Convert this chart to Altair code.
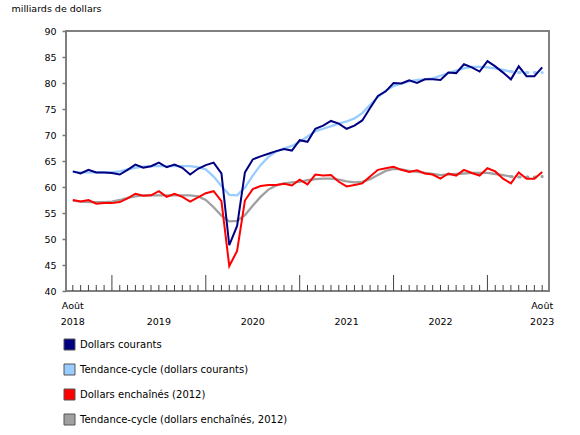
import altair as alt
import pandas as pd

# Months from August 2018 to August 2023
months = [str(p) for p in pd.period_range("2018-08", "2023-08", freq="M")]

courants = [63.0, 62.6, 63.3, 62.8, 62.8, 62.7, 62.4, 63.3, 64.3, 63.7,
            64.0, 64.7, 63.8, 64.3, 63.7, 62.4, 63.5, 64.2, 64.7, 62.6,
            48.8, 52.5, 62.8, 65.3, 65.9, 66.4, 66.9, 67.3, 67.0, 69.0,
            68.7, 71.2, 71.8, 72.7, 72.2, 71.2, 71.8, 72.8, 75.2, 77.5,
            78.4, 80.0, 79.9, 80.5, 80.0, 80.7, 80.7, 80.6, 82.0, 81.9,
            83.6, 83.0, 82.2, 84.2, 83.2, 82.0, 80.7, 83.2, 81.3, 81.3,
            83.0]
tendance_courants = [62.9, 62.8, 62.8, 62.8, 62.8, 62.8, 63.0, 63.4, 63.7, 63.9,
                     64.0, 64.0, 64.0, 64.0, 64.0, 64.0, 63.8, 63.4, 62.0, 60.2,
                     58.5, 58.4, 59.9, 62.2, 64.2, 65.8, 66.8, 67.4, 67.9, 68.7,
                     69.7, 70.7, 71.2, 71.7, 72.2, 72.6, 73.2, 74.2, 75.8, 77.3,
                     78.5, 79.4, 79.9, 80.3, 80.6, 80.7, 80.9, 81.4, 81.9, 82.4,
                     82.8, 83.1, 83.1, 83.0, 82.8, 82.5, 82.2, 82.0, 82.0, 82.0,
                     82.0]
enchaines = [57.5, 57.2, 57.5, 56.8, 56.9, 56.9, 57.1, 57.8, 58.7, 58.3,
             58.4, 59.2, 58.1, 58.7, 58.1, 57.2, 58.0, 58.8, 59.2, 57.3,
             44.8, 47.7, 57.4, 59.6, 60.2, 60.4, 60.4, 60.6, 60.3, 61.4,
             60.5, 62.4, 62.2, 62.3, 61.0, 60.1, 60.4, 60.7, 62.0, 63.3,
             63.6, 63.9, 63.3, 62.9, 63.2, 62.6, 62.4, 61.6, 62.6, 62.2,
             63.3, 62.7, 62.2, 63.6, 63.0, 61.6, 60.7, 62.8, 61.6, 61.6,
             62.9]
tendance_enchaines = [57.4, 57.2, 57.1, 57.1, 57.1, 57.2, 57.5, 57.9, 58.2, 58.4,
                      58.4, 58.4, 58.4, 58.4, 58.4, 58.4, 58.2, 57.5, 56.1, 54.5,
                      53.4, 53.5, 54.6, 56.4, 58.1, 59.5, 60.3, 60.7, 60.9, 61.0,
                      61.3, 61.5, 61.6, 61.6, 61.4, 61.1, 60.9, 61.0, 61.5, 62.3,
                      63.1, 63.5, 63.4, 63.1, 62.9, 62.7, 62.5, 62.3, 62.4, 62.5,
                      62.6, 62.7, 62.7, 62.7, 62.5, 62.3, 62.0, 61.9, 61.9, 61.9,
                      62.0]

series_names = ["Dollars courants",
                "Tendance-cycle (dollars courants)",
                "Dollars enchaînés (2012)",
                "Tendance-cycle (dollars enchaînés, 2012)"]
series_kinds = ["actual", "trend", "actual", "trend"]
series_colors = ["#000080", "#99CCFF", "#FF0000", "#A0A0A0"]
series_values = [courants, tendance_courants, enchaines, tendance_enchaines]

year_labels = ["2018", "2019", "2020", "2021", "2022", "2023"]
year_label_month = ["2018-08", "2019-07", "2020-07", "2021-07", "2022-07", "2023-08"]
month_labels = ["Août", "Août"]
month_label_month = ["2018-08", "2023-08"]
dotted_from = "2023-04"

rows = []
for name, kind, vals in zip(series_names, series_kinds, series_values):
    for i, (m, v) in enumerate(zip(months, vals)):
        rows.append({"idx": i, "month": m, "series": name, "kind": kind, "value": v})
df = pd.DataFrame(rows)
dot_idx = months.index(dotted_from)

ticks = pd.DataFrame({"idx": list(range(len(months))),
                      "major": [m.endswith("-01") for m in months]})
ylab = pd.DataFrame({"idx": [months.index(m) for m in year_label_month], "text": year_labels})
mlab = pd.DataFrame({"idx": [months.index(m) for m in month_label_month], "text": month_labels})
legend_df = pd.DataFrame({"series": series_names})

FONT = "DejaVu Sans"
W, H = 483, 260

xenc = alt.X("idx:Q", scale=alt.Scale(domain=[-0.87, len(months) - 1 + 0.87], nice=False, zero=False), axis=None)
yenc = alt.Y("value:Q", scale=alt.Scale(domain=[40, 90], nice=False, zero=False),
             axis=alt.Axis(values=list(range(40, 91, 5)), title="milliards de dollars",
                           titleAngle=0, titleAlign="left", titleBaseline="middle",
                           titleX=-55, titleY=-23, titleFont=FONT, titleFontSize=9.5,
                           titleFontWeight="normal", titleColor="black",
                           labelFont=FONT, labelFontSize=9.5, labelColor="black",
                           labelPadding=6, tickSize=4, tickColor="#777777", tickWidth=1.5,
                           domain=False, grid=False))
cscale = alt.Scale(domain=series_names, range=series_colors)
color = alt.Color("series:N", scale=cscale, legend=None)

base = alt.Chart(df)
trend_solid = base.transform_filter(f"datum.kind == 'trend' && datum.idx <= {dot_idx}").mark_line(
    strokeWidth=2.3).encode(x=xenc, y=yenc, color=color)
trend_dot = base.transform_filter(f"datum.kind == 'trend' && datum.idx >= {dot_idx}").mark_line(
    strokeWidth=3, strokeDash=[1.5, 6.3], strokeCap="round").encode(x=xenc, y=yenc, color=color)
actual = base.transform_filter("datum.kind == 'actual'").mark_line(
    strokeWidth=2).encode(x=xenc, y=yenc, color=color)

minor = alt.Chart(ticks).transform_filter("!datum.major").mark_rule(color="#444444", strokeWidth=1).encode(
    x="idx:Q", y=alt.value(H), y2=alt.value(H - 6))
major = alt.Chart(ticks).transform_filter("datum.major").mark_rule(color="#444444", strokeWidth=1).encode(
    x="idx:Q", y=alt.value(H), y2=alt.value(H - 16))

ytext = alt.Chart(ylab).mark_text(font=FONT, fontSize=9.5, color="black", baseline="middle").encode(
    x="idx:Q", y=alt.value(H + 30.5), text="text:N")
mtext = alt.Chart(mlab).mark_text(font=FONT, fontSize=9.5, color="black", baseline="middle").encode(
    x="idx:Q", y=alt.value(H + 14.5), text="text:N")

plot = alt.layer(trend_solid, trend_dot, actual, minor, major, ytext, mtext)

# legend drawn with its own point scale below the plot
lscale = alt.Scale(type="point", domain=series_names, range=[H + 53.5, H + 128.5], padding=0)
leg_y = alt.Y("series:N", scale=lscale, axis=None, sort=series_names)
leg_sq = alt.Chart(legend_df).mark_square(size=121, filled=True, stroke="#555555", strokeWidth=1,
                                          opacity=1).encode(
    x=alt.value(3.5), y=leg_y,
    fill=alt.Fill("series:N", scale=cscale, legend=None))
leg_txt = alt.Chart(legend_df).mark_text(font=FONT, fontSize=10, color="black", align="left",
                                         baseline="middle").encode(
    x=alt.value(14), y=leg_y, text="series:N")
legend = alt.layer(leg_sq, leg_txt)

chart = alt.layer(plot, legend).resolve_scale(y="independent").properties(
    width=W, height=H,
    padding={"left": 66, "top": 31, "right": 31, "bottom": 144},
    autosize=alt.AutoSizeParams(type="none"),
    background="white",
).configure_view(stroke="#808080", strokeWidth=2)

chart.save("out.html", embed_options={"renderer": "svg", "actions": False})
